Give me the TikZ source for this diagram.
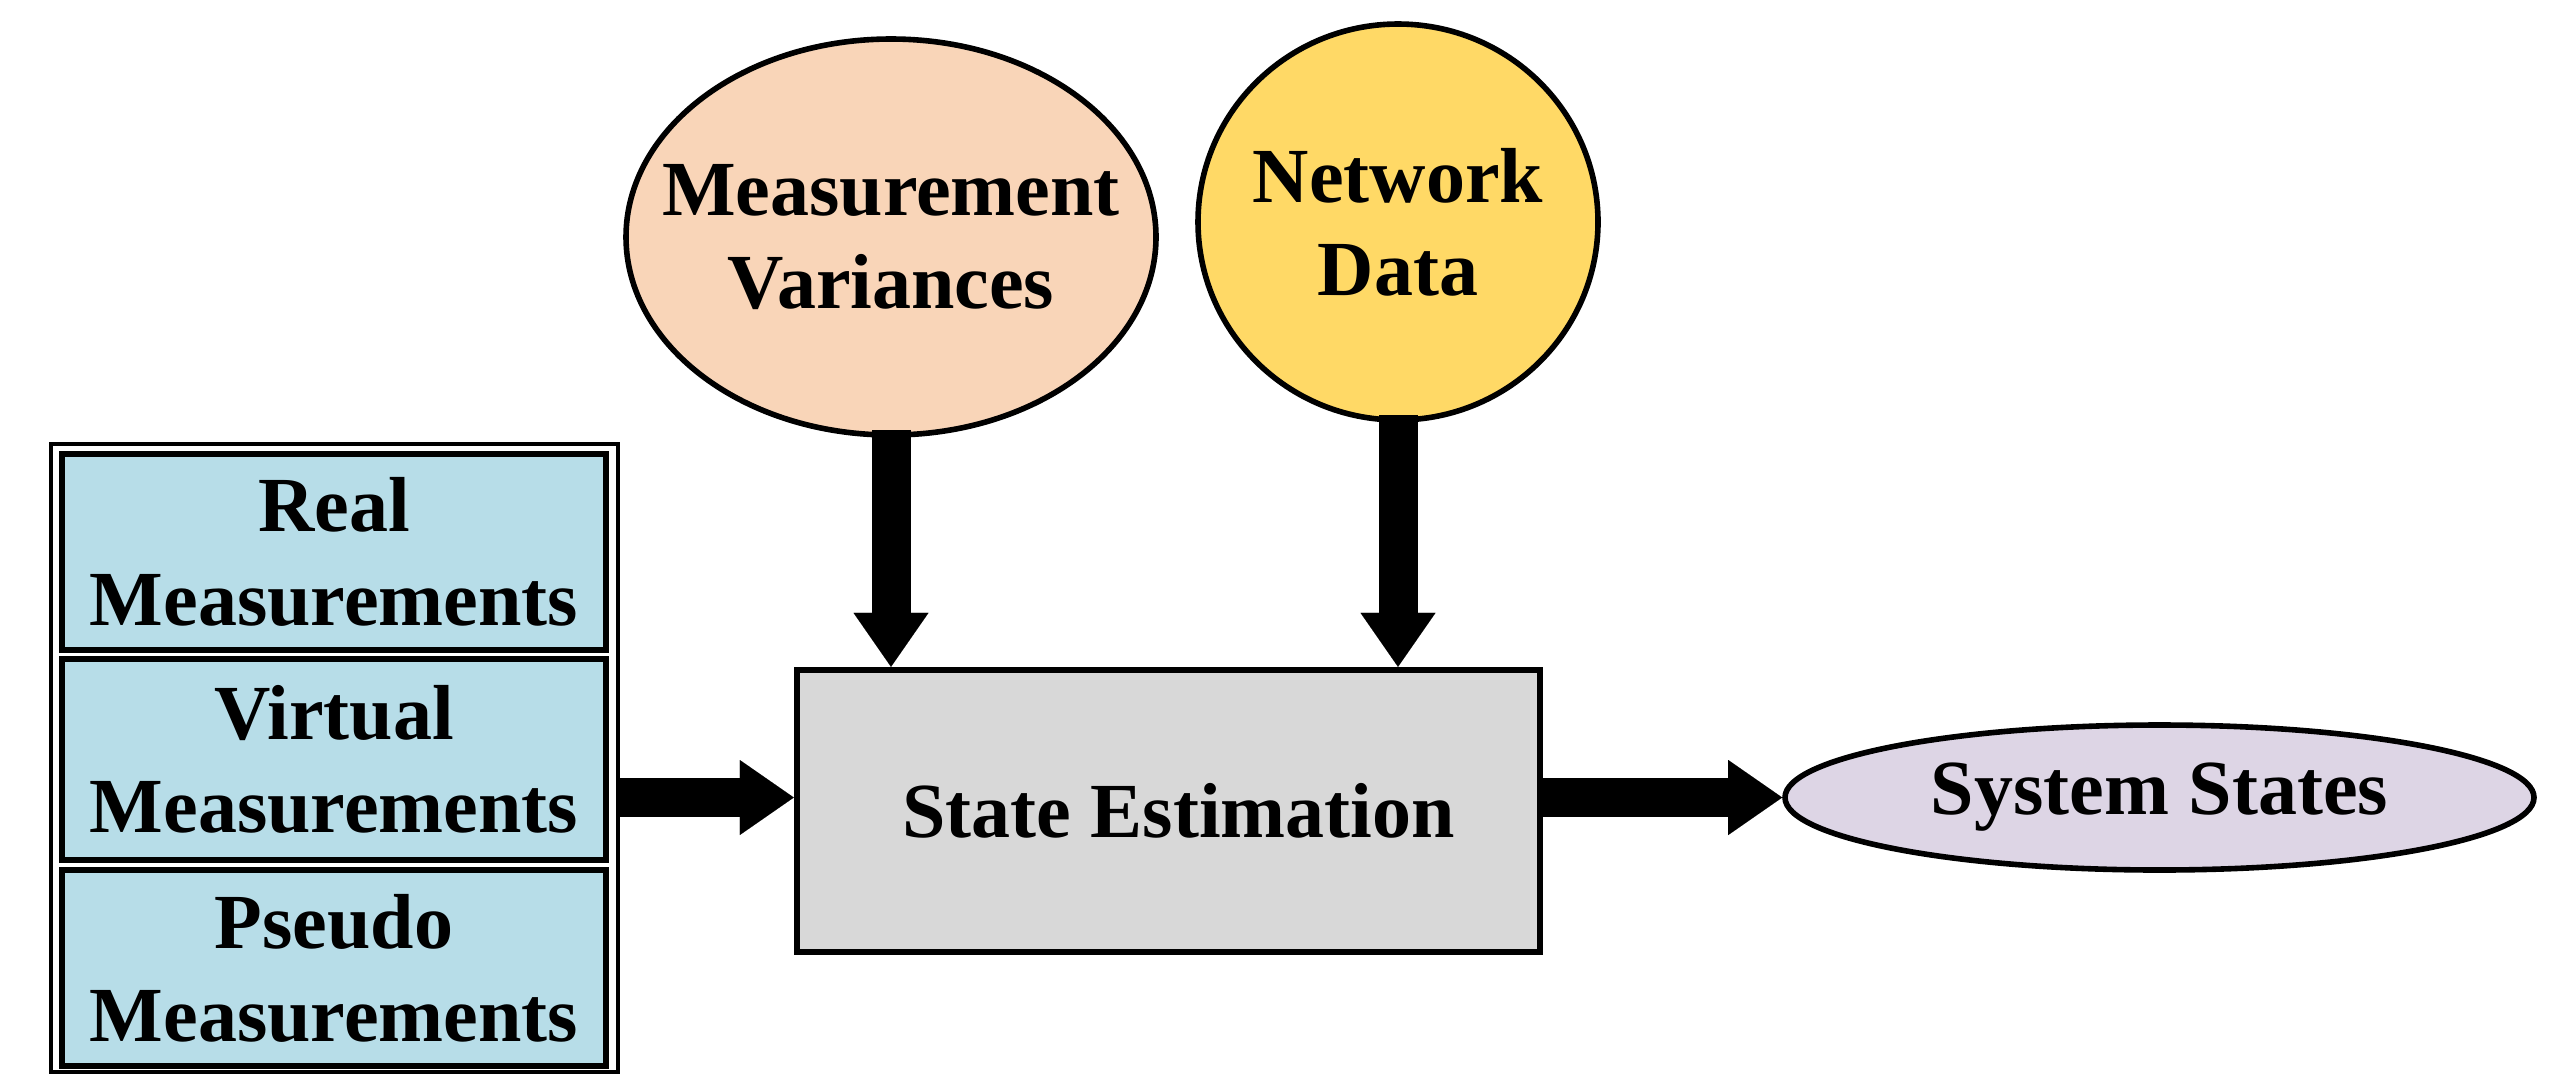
\documentclass[tikz,border=0pt]{standalone}
\usepackage{fontspec}
\setmainfont{Liberation Serif}
\usetikzlibrary{shapes.geometric,arrows.meta,calc}
\definecolor{boxblue}{HTML}{B7DDE8}
\definecolor{peach}{HTML}{F9D5B8}
\definecolor{gold}{HTML}{FFD966}
\definecolor{segray}{HTML}{D8D8D8}
\definecolor{lav}{HTML}{DDD5E5}
\tikzset{
  lbl/.style={font=\fontsize{19.5}{23.3}\selectfont\bfseries, align=center, inner sep=0pt, text=black},
  measbox/.style={lbl, draw=black, line width=1.5pt, fill=boxblue, minimum width=136pt, rectangle},
  bubble/.style={lbl, ellipse, draw=black, line width=1.4pt, inner xsep=-20pt, inner ysep=0pt},
  blockarrow/.style={line width=9.75pt, -{Triangle[length=13.5pt,width=18.75pt,line width=0.01pt]}, black}
}
\begin{document}
\begin{tikzpicture}[x=0.25pt,y=-0.25pt]
\useasboundingbox (0,0) rectangle (2559,1073);
% outer group box
\node[draw=black, line width=0.8pt, rectangle, minimum width=141.75pt, minimum height=157pt, inner sep=0pt] (group) at (334.5,758) {};
% measurement boxes
\node[measbox, minimum height=49pt] (real) at (334,552) {Real\\Measurements};
\node[measbox, minimum height=50.25pt] (virt) at (334,759.5) {Virtual\\Measurements};
\node[measbox, minimum height=49pt] (pseudo) at (334,968) {Pseudo\\Measurements};
% ellipses
\node[bubble, fill=peach, minimum width=132.5pt, minimum height=99pt] (mv) at (891,237) {Measurement\\Variances};
\node[bubble, fill=gold, minimum width=100pt, minimum height=99pt] (nd) at (1398,222) {Network\\Data};
% state estimation
\node[lbl, rectangle, draw=black, line width=1.6pt, fill=segray, minimum width=185.75pt, minimum height=70.5pt] (se) at (1168.5,811) {\hspace*{5pt}State Estimation};
% system states
\node[bubble, fill=lav, minimum width=187.25pt, minimum height=36.25pt] (ss) at (2159.5,797.5) {System States};
% arrows
\draw[blockarrow, shorten <=-2pt] (mv.south) -- (mv.south |- se.north);
\draw[blockarrow, shorten <=-2pt] (nd.south) -- (nd.south |- se.north);
\draw[blockarrow] (ss.west -| group.east) -- (ss.west -| se.west);
\draw[blockarrow] (ss.west -| se.east) -- (ss.west);
\end{tikzpicture}
\end{document}
